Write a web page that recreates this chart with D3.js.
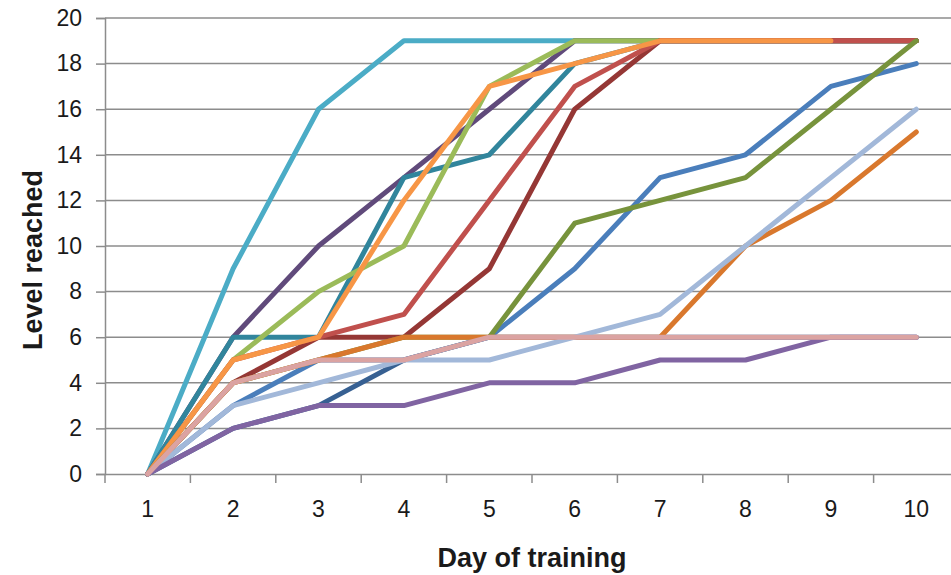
<!DOCTYPE html>
<html>
<head>
<meta charset="utf-8">
<script src="https://cdn.jsdelivr.net/npm/d3@7"></script>
<style>
  body { margin: 0; background: #fff; }
  text { font-family: "Liberation Sans Narrow", "Liberation Sans", Arial, sans-serif; fill: #1a1a1a; }
</style>
</head>
<body>
<div id="chart"></div>
<script>
const width = 951, height = 575;

// days on the x axis and y ticks
const days = [1, 2, 3, 4, 5, 6, 7, 8, 9, 10];
const yTicks = [0, 2, 4, 6, 8, 10, 12, 14, 16, 18, 20];

// one array per trainee, drawn in this order (later ones on top)
const cyan       = [0, 9, 16, 19, 19, 19, 19, 19, 19, 19];
const darkPurple = [0, 6, 10, 13, 16, 19, 19, 19, 19, 19];
const teal       = [0, 6, 6, 13, 14, 18, 19, 19, 19, 19];
const lightGreen = [0, 5, 8, 10, 17, 19, 19, 19, 19, 19];
const darkRed    = [0, 4, 6, 6, 9, 16, 19, 19, 19, 19];
const red        = [0, 5, 6, 7, 12, 17, 19, 19, 19, 19];
const orange     = [0, 5, 6, 12, 17, 18, 19, 19, 19, null];
const darkBlue   = [0, 2, 3, 5, 6, 6, 6, 6, 6, 6];
const blue       = [0, 3, 5, 5, 6, 9, 13, 14, 17, 18];
const olive      = [0, 4, 5, 6, 6, 11, 12, 13, 16, 19];
const darkOrange = [0, 4, 5, 6, 6, 6, 6, 10, 12, 15];
const lightBlue  = [0, 3, 4, 5, 5, 6, 7, 10, 13, 16];
const purple     = [0, 2, 3, 3, 4, 4, 5, 5, 6, 6];
const pink       = [0, 4, 5, 5, 6, 6, 6, 6, 6, 6];

const series = [
  {values: cyan, color: "#4BACC6"},
  {values: darkPurple, color: "#604A7B"},
  {values: teal, color: "#31859C"},
  {values: lightGreen, color: "#9BBB59"},
  {values: darkRed, color: "#953735"},
  {values: red, color: "#C0504D"},
  {values: orange, color: "#F79646"},
  {values: darkBlue, color: "#376092"},
  {values: blue, color: "#4A7EBB"},
  {values: olive, color: "#77933C"},
  {values: darkOrange, color: "#D9782D"},
  {values: lightBlue, color: "#A2B8D9"},
  {values: purple, color: "#8064A2"},
  {values: pink, color: "#DBA3A2"}
];

const plotLeft = 105, plotRight = 959, plotTop = 18, plotBottom = 474;

const svg = d3.select("#chart").append("svg")
  .attr("width", width).attr("height", height);

const x = d3.scaleBand().domain(days).range([plotLeft, plotRight]).padding(0);
const y = d3.scaleLinear().domain([0, 20]).range([plotBottom, plotTop]);

// horizontal grid lines
svg.append("g")
  .selectAll("line")
  .data(yTicks.filter(d => d > 0))
  .join("line")
  .attr("x1", plotLeft).attr("x2", plotRight)
  .attr("y1", d => y(d)).attr("y2", d => y(d))
  .attr("stroke", "#8c8c8c").attr("stroke-width", 1.5);

// y axis
const yAxis = svg.append("g")
  .attr("transform", `translate(${plotLeft},0)`)
  .call(d3.axisLeft(y).tickValues(yTicks).tickSize(9).tickPadding(14));
yAxis.select(".domain").attr("stroke", "#8c8c8c").attr("stroke-width", 1.5);
yAxis.selectAll(".tick line").attr("stroke", "#8c8c8c").attr("stroke-width", 1.5);
yAxis.selectAll(".tick text").style("font-size", "23px").attr("fill", "#1a1a1a");

// x axis, ticks sit between the days
const xAxis = svg.append("g")
  .attr("transform", `translate(0,${plotBottom})`)
  .call(d3.axisBottom(x).tickSize(0).tickPadding(27));
xAxis.select(".domain").attr("stroke", "#8c8c8c").attr("stroke-width", 1.5);
xAxis.selectAll(".tick text").style("font-size", "23px").attr("fill", "#1a1a1a");
xAxis.selectAll(".sep")
  .data(days)
  .join("line")
  .attr("class", "sep")
  .attr("x1", d => x(d)).attr("x2", d => x(d))
  .attr("y1", 0).attr("y2", 9)
  .attr("stroke", "#8c8c8c").attr("stroke-width", 1.5);

// lines
const line = d3.line()
  .defined(d => d != null)
  .x((d, i) => x(days[i]) + x.bandwidth() / 2)
  .y(d => y(d));

svg.append("g")
  .selectAll("path")
  .data(series)
  .join("path")
  .attr("d", d => line(d.values))
  .attr("fill", "none")
  .attr("stroke", d => d.color)
  .attr("stroke-width", 5)
  .attr("stroke-linejoin", "round")
  .attr("stroke-linecap", "round");

// axis titles
svg.append("text")
  .attr("x", (plotLeft + plotRight) / 2).attr("y", 567)
  .attr("text-anchor", "middle")
  .style("font-size", "27px").style("font-weight", "bold")
  .text("Day of training");

svg.append("text")
  .attr("transform", "translate(42,260) rotate(-90)")
  .attr("text-anchor", "middle")
  .style("font-size", "27px").style("font-weight", "bold")
  .text("Level reached");
</script>
</body>
</html>
